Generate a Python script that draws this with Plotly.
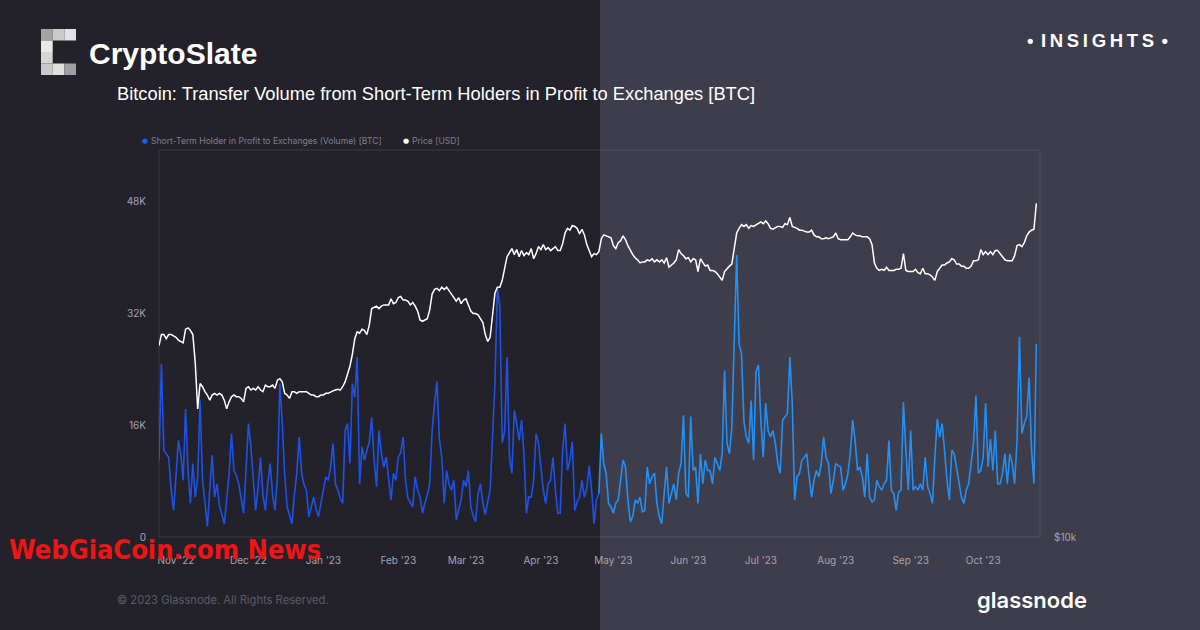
import pandas as pd
import plotly.graph_objects as go

# ---------------- data (daily, starting 2022-10-25) ----------------
START_DATE = "2022-10-25"

# Short-Term Holder in Profit to Exchanges (Volume) [BTC], thousands of BTC
sth_volume_k = [
    11.0, 24.7, 12.4, 11.9, 11.4, 7.0, 3.8, 8.5, 13.8, 11.9,
    8.1, 18.3, 9.5, 4.8, 10.5, 5.7, 8.5, 19.5, 8.1, 5.0,
    1.5, 6.7, 11.7, 5.7, 7.6, 4.5, 3.0, 1.9, 5.3, 9.0,
    14.8, 9.5, 8.8, 7.6, 5.5, 3.4, 9.5, 16.2, 13.0, 8.0,
    3.8, 7.0, 11.4, 6.0, 3.8, 7.5, 10.5, 6.0, 3.8, 8.6,
    21.9, 16.2, 9.0, 4.3, 3.0, 1.9, 6.0, 9.1, 14.3, 9.1,
    7.5, 6.7, 2.9, 4.5, 5.7, 4.0, 2.9, 4.8, 6.5, 8.6,
    8.1, 10.0, 13.4, 7.6, 6.7, 5.5, 4.8, 15.2, 16.2, 10.5,
    21.9, 20.0, 25.7, 7.6, 12.9, 11.0, 12.4, 13.5, 17.1, 11.0,
    7.2, 15.2, 11.9, 10.0, 11.4, 8.0, 5.3, 9.1, 8.1, 11.4,
    12.0, 14.3, 8.1, 5.5, 4.8, 4.3, 8.6, 6.7, 5.7, 3.4,
    4.8, 6.0, 7.6, 15.2, 19.0, 22.2, 14.0, 11.4, 4.8, 9.5,
    7.5, 6.7, 8.1, 2.4, 4.0, 5.3, 8.1, 7.2, 9.5, 4.3,
    3.0, 2.2, 6.2, 7.6, 4.8, 3.2, 5.0, 6.7, 14.3, 22.0,
    35.5, 33.0, 13.4, 15.2, 25.7, 11.4, 9.1, 18.1, 16.2, 13.8,
    16.7, 11.9, 3.4, 5.7, 5.7, 8.1, 14.8, 13.4, 10.0, 6.7,
    4.8, 7.6, 8.1, 11.4, 6.7, 3.4, 3.4, 12.4, 16.2, 9.5,
    11.0, 13.6, 3.8, 5.0, 5.7, 8.1, 5.7, 7.0, 10.2, 6.7,
    1.9, 5.3, 6.2, 14.8, 10.5, 9.1, 4.8, 4.3, 3.4, 4.8,
    5.3, 8.0, 11.0, 10.0, 5.3, 2.2, 2.9, 5.3, 4.8, 5.7,
    3.6, 3.8, 10.0, 7.6, 8.6, 9.1, 4.8, 2.9, 1.9, 6.2,
    10.0, 4.8, 6.2, 7.6, 5.3, 9.1, 10.5, 17.4, 6.2, 5.7,
    17.2, 9.5, 10.0, 4.8, 11.9, 7.6, 11.0, 9.5, 9.5, 7.6,
    11.4, 10.5, 9.5, 11.9, 23.8, 13.4, 11.9, 15.7, 28.2, 40.3,
    27.6, 26.2, 16.5, 14.3, 13.4, 19.5, 11.0, 23.6, 24.6, 16.7,
    11.4, 19.1, 15.2, 14.3, 15.2, 13.4, 10.5, 9.1, 16.7, 17.2,
    17.6, 25.7, 19.1, 5.3, 8.6, 9.1, 11.0, 11.4, 11.9, 8.6,
    5.7, 8.1, 9.5, 8.6, 10.5, 14.3, 11.4, 10.5, 6.2, 8.1,
    10.5, 10.2, 10.0, 6.7, 7.6, 9.0, 11.9, 16.7, 13.8, 9.5,
    10.0, 8.6, 5.7, 11.9, 5.7, 5.0, 5.3, 8.1, 7.2, 6.7,
    7.6, 8.1, 13.8, 6.7, 6.2, 3.8, 6.4, 6.7, 19.3, 12.4,
    6.7, 15.2, 6.7, 7.2, 6.7, 7.6, 6.7, 11.4, 7.2, 6.2,
    4.8, 11.4, 16.9, 14.3, 16.2, 12.4, 8.1, 5.3, 12.4, 11.9,
    10.0, 7.6, 5.7, 4.8, 6.7, 7.6, 10.5, 13.4, 20.2, 9.1,
    9.5, 11.4, 19.1, 10.0, 14.0, 9.5, 15.2, 7.6, 7.6, 9.1,
    11.9, 7.6, 11.9, 10.5, 7.6, 13.8, 28.6, 14.8, 16.2, 17.2,
    22.8, 12.4, 7.6, 27.6,
]

# Price [USD], thousands of USD
price_k = [
    19.8, 20.6, 20.6, 20.3, 20.6, 20.6, 20.5, 20.4, 20.2, 20.1,
    20.0, 21.0, 21.1, 20.9, 20.6, 18.6, 15.8, 17.3, 17.1, 16.8,
    16.6, 16.3, 16.6, 16.7, 16.6, 16.7, 16.6, 16.3, 15.8, 16.2,
    16.5, 16.6, 16.5, 16.5, 16.4, 16.2, 17.0, 17.1, 16.9, 17.0,
    16.9, 17.1, 16.9, 16.8, 17.2, 17.1, 17.1, 17.2, 17.0, 17.5,
    17.6, 17.4, 16.7, 16.6, 16.4, 16.8, 16.8, 16.7, 16.8, 16.8,
    16.8, 16.8, 16.7, 16.6, 16.6, 16.5, 16.5, 16.6, 16.6, 16.7,
    16.7, 16.8, 16.85, 16.9, 16.95, 16.9, 17.1, 17.4, 17.9, 18.4,
    19.2, 20.3, 20.8, 20.7, 21.0, 20.9, 20.6, 21.3, 22.6, 22.7,
    22.8, 22.6, 22.8, 22.9, 22.9, 22.9, 23.4, 23.0, 23.1, 23.5,
    23.6, 23.3, 23.3, 23.2, 22.9, 23.1, 22.8, 22.4, 21.7, 21.6,
    21.7, 21.8, 22.5, 23.8, 24.2, 24.3, 24.1, 24.4, 24.2, 24.4,
    24.1, 23.8, 23.4, 23.2, 23.5, 23.0, 23.3, 23.4, 22.9, 22.4,
    22.2, 22.2, 22.1, 21.8, 21.5, 20.6, 20.1, 20.4, 22.0, 23.9,
    24.4, 24.4, 25.0, 26.0, 27.2, 27.6, 28.0, 27.4, 27.9, 27.2,
    27.8, 27.3, 27.6, 27.4, 28.0, 27.0, 27.5, 28.2, 27.9, 28.4,
    27.9, 28.1, 27.8, 28.0, 28.2, 27.8, 27.8, 28.5, 29.6, 30.1,
    29.9, 30.4, 30.3, 30.1, 29.5, 30.0, 29.4, 28.4, 27.7, 27.2,
    27.5, 27.4, 27.7, 29.0, 29.4, 29.3, 29.2, 29.1, 28.3, 28.0,
    28.6, 28.8, 29.3, 28.9, 28.3, 27.8, 27.4, 27.1, 26.9, 26.6,
    26.7, 26.7, 26.9, 26.8, 27.0, 26.7, 26.9, 26.7, 26.9, 26.6,
    27.1, 26.2, 26.4, 26.6, 26.9, 27.9, 27.5, 27.3, 27.0, 27.1,
    26.7, 27.0, 26.9, 25.8, 27.0, 26.7, 26.3, 26.4, 25.9, 25.9,
    25.8, 25.6, 25.3, 25.0, 25.8, 26.1, 26.3, 26.5, 28.2, 29.6,
    30.1, 30.5, 30.3, 30.5, 30.1, 30.4, 30.3, 30.5, 30.6, 30.8,
    30.6, 30.9, 30.6, 30.1, 30.0, 30.2, 30.3, 30.3, 30.2, 30.6,
    30.5, 31.3, 30.3, 30.2, 30.1, 29.9, 29.9, 29.8, 29.7, 29.7,
    29.9, 29.4, 29.2, 29.2, 29.0, 29.0, 29.1, 29.0, 29.1, 29.2,
    29.6, 29.0, 28.9, 28.9, 28.9, 28.9, 29.2, 29.6, 29.4, 29.3,
    29.3, 29.2, 29.2, 29.2, 29.0, 28.4, 26.6, 26.1, 25.9, 26.0,
    25.9, 26.2, 25.9, 25.9, 25.9, 26.0, 26.0, 26.1, 27.5, 25.9,
    25.8, 25.8, 25.8, 26.0, 25.7, 25.6, 26.1, 25.6, 25.6, 25.5,
    25.3, 25.0, 25.8, 26.1, 26.4, 26.4, 26.6, 26.7, 27.0, 26.9,
    26.5, 26.5, 26.3, 26.3, 26.1, 26.1, 26.3, 26.8, 26.8, 26.9,
    27.9, 27.4, 27.7, 27.4, 27.7, 27.4, 27.8, 27.8, 27.5, 27.2,
    26.9, 26.8, 26.8, 26.8, 27.3, 28.3, 28.4, 28.2, 28.6, 29.3,
    29.7, 29.9, 30.0, 32.9,
]

assert len(sth_volume_k) == len(price_k)

left_ticks = [0, 16000, 32000, 48000]
left_tick_text = ["0", "16K", "32K", "48K"]
right_ticks = [10000]
right_tick_text = ["$10k"]

TITLE = "Bitcoin: Transfer Volume from Short-Term Holders in Profit to Exchanges [BTC]"
SERIES_VOL = "Short-Term Holder in Profit to Exchanges (Volume) [BTC]"
SERIES_PRICE = "Price [USD]"

# ---------------- build ----------------
dates = pd.date_range(START_DATE, periods=len(price_k), freq="D")
vol = [v * 1000 for v in sth_volume_k]
price = [p * 1000 for p in price_k]

W, H = 1200, 630
def px(x):
    return x / W
def py(y):
    return 1 - y / H

BG_LEFT = "#23222b"
BG_RIGHT = "#3e3d4b"
SPLIT = pd.Timestamp("2023-04-25")

fig = go.Figure()

# volume line, coloured darker over the dark half and brighter over the light half
idx_split = int((dates < SPLIT).sum())
segments = [(0, idx_split + 1, "#1e52e6"), (idx_split, len(dates), "#2290f5")]
for a, b, col in segments:
    fig.add_trace(go.Scatter(
        x=dates[a:b], y=vol[a:b], mode="lines", name=SERIES_VOL,
        line=dict(color=col, width=1.6), showlegend=False, yaxis="y",
    ))

fig.add_trace(go.Scatter(
    x=dates, y=price, mode="lines", name=SERIES_PRICE,
    line=dict(color="#ffffff", width=1.5), showlegend=False, yaxis="y2",
))

tick_font = dict(family="Inter, Liberation Sans, sans-serif", size=10, color="#a4a4ae")

fig.update_layout(
    width=W, height=H, autosize=False,
    margin=dict(l=0, r=0, t=0, b=0, pad=0, autoexpand=False),
    paper_bgcolor=BG_LEFT, plot_bgcolor="rgba(0,0,0,0)",
    showlegend=False,
    xaxis=dict(
        domain=[px(159), px(1040)], type="date", automargin=False,
        range=["2022-10-25 00:00", "2023-10-24 12:00"],
        tick0="2022-11-01", dtick="M1", tickformat="%b '%y",
        showgrid=False, zeroline=False, showline=False, ticks="",
        tickfont=tick_font, ticklabelstandoff=16,
    ),
    yaxis=dict(
        domain=[py(537), py(150)], range=[0, 55300], automargin=False,
        tickvals=left_ticks, ticktext=left_tick_text,
        showgrid=False, zeroline=False, showline=False, ticks="",
        tickfont=tick_font, ticklabelstandoff=12,
    ),
    yaxis2=dict(
        overlaying="y", side="right", type="log", range=[4, 4.6], automargin=False,
        tickvals=right_ticks, ticktext=right_tick_text,
        showgrid=False, zeroline=False, showline=False, ticks="",
        tickfont=tick_font, ticklabelstandoff=13,
    ),
)

shapes = [
    dict(type="rect", xref="paper", yref="paper", x0=px(600), x1=1.01, y0=-0.02, y1=1.02,
         fillcolor=BG_RIGHT, line=dict(width=0), layer="below"),
    dict(type="rect", xref="paper", yref="paper", x0=px(159), x1=px(1040),
         y0=py(537), y1=py(150), fillcolor="rgba(0,0,0,0)",
         line=dict(color="rgba(255,255,255,0.11)", width=1), layer="below"),
]
# CryptoSlate pixel logo
cols = [(41, 52.7), (52.7, 64.4), (64.4, 76)]
rows = [(29, 40.5), (40.5, 52), (52, 63.5), (63.5, 75)]
logo_cells = [
    (0, 0, "#a3a3a3"), (1, 0, "#cbcbcb"), (2, 0, "#e2e2e2"),
    (0, 1, "#e9e9e9"), (0, 2, "#d6d6d6"),
    (0, 3, "#cacaca"), (1, 3, "#e0e0e0"), (2, 3, "#9e9e9e"),
]
for c, r, colr in logo_cells:
    shapes.append(dict(type="rect", xref="paper", yref="paper",
                       x0=px(cols[c][0]), x1=px(cols[c][1]),
                       y0=py(rows[r][1]), y1=py(rows[r][0]),
                       fillcolor=colr, line=dict(width=0), layer="above"))
fig.update_layout(shapes=shapes)

ann = []
def add_text(text, x, y, size, color, family="Liberation Sans, Arial, sans-serif",
             xanchor="left", weight=None):
    f = dict(family=family, size=size, color=color)
    if weight:
        f["weight"] = weight
    ann.append(dict(text=text, x=px(x), y=py(y), xref="paper", yref="paper",
                    xanchor=xanchor, yanchor="middle", showarrow=False, font=f))

add_text("<b>CryptoSlate</b>", 87, 53.5, 30, "#ffffff")
ts = "\u2009"
insight = "\u2022" + ts * 2 + ts.join("INSIGHTS") + ts * 2 + "\u2022"
add_text("<b>" + insight + "</b>", 1097, 41, 18.5, "#ffffff", xanchor="center")
add_text(TITLE, 115, 93, 18.3, "#ffffff")

legend_font = "Inter, Liberation Sans, sans-serif"
add_text("\u25cf", 145, 141, 7, "#1f5cf0", family="DejaVu Sans", xanchor="center")
add_text(SERIES_VOL, 149, 141, 8.6, "#7f7f8a", family=legend_font)
add_text("\u25cf", 406, 141, 7, "#ffffff", family="DejaVu Sans", xanchor="center")
add_text(SERIES_PRICE, 410, 141, 8.6, "#7f7f8a", family=legend_font)

add_text("\u00a9 2023 Glassnode. All Rights Reserved.", 115, 600, 11.2, "#5b5b66",
         family=legend_font)
add_text("glassnode", 1032, 600, 22, "#ffffff", family="Inter, sans-serif",
         xanchor="center", weight=600)
add_text("<b>WebGiaCoin.com News</b>", 7, 549, 27, "#f01414",
         family="Liberation Sans Narrow, DejaVu Sans Condensed, sans-serif")

fig.update_layout(annotations=ann)

fig.write_html("out.html", config={"displayModeBar": False},
               post_script="document.body.style.margin='0';document.body.style.overflow='hidden';")
